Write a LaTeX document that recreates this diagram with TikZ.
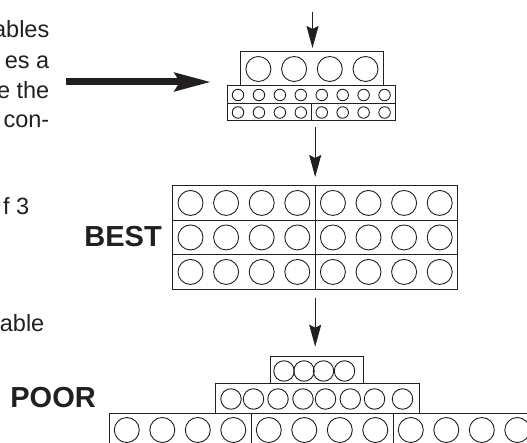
\documentclass[tikz,border=0pt]{standalone}
\usepackage{fontspec}
\setmainfont{Liberation Sans}
\usetikzlibrary{arrows.meta,calc}
\definecolor{inkc}{HTML}{231F20}
\begin{document}
\begin{tikzpicture}[x=1pt,y=-1pt,
  brick/.style={draw=inkc, line width=1pt, rectangle, inner sep=0pt, outer sep=0pt, anchor=north west},
  stud/.style={draw=inkc, line width=0.9pt, circle, inner sep=0pt, outer sep=0pt, minimum size=#1},
  flow/.style={draw=inkc, line width=1pt, -{Stealth[length=22pt,width=12pt,inset=3pt]}},
  bigflow/.style={draw=inkc, line width=7pt, -{Stealth[length=36pt,width=18pt,inset=5pt]}},
  txt/.style={font=\fontsize{23.5}{29.4}\selectfont, text=inkc, inner sep=0pt, anchor=base east},
  lbl/.style={font=\bfseries\fontsize{29}{33}\selectfont, text=inkc, inner sep=0pt, anchor=base east}]
\useasboundingbox (0,0) rectangle (527,443);
% left text (cut off at the left edge, as in the reference)
\node[txt] (l1) at (49.5,38) {ables};
\node[txt] (l2) at (49.5,68.5) {es a};
\node[txt] (l3) at (49.5,98.5) {e the};
\node[txt] (l4) at (49.5,128) {con-};
\node[txt] (l5) at (29.5,215) {f 3};
\node[txt] (l6) at (44.5,331) {able};
\node[lbl] (best) at (162,246.5) {BEST};
\node[lbl] (poor) at (96,407.5) {POOR};
% top cluster
\node[brick, minimum width=142.8pt, minimum height=34.3pt] (t1) at (240.5,51.7) {};
\foreach \i in {0,...,3} \node[stud=25pt] (t1c\i) at ({258.4+35.7*\i},69) {};
\node[brick, minimum width=167.5pt, minimum height=18pt] (t2) at (227.5,86) {};
\node[brick, minimum width=83.75pt, minimum height=17pt] (t3a) at (227.5,104) {};
\node[brick, minimum width=83.75pt, minimum height=17pt] (t3b) at (311.25,104) {};
\foreach \i in {0,...,7} {
  \node[stud=11.5pt] (t2c\i) at ({238+20.94*\i},95) {};
  \node[stud=11.5pt] (t3c\i) at ({238+20.94*\i},112.5) {};
}
% BEST wall
\foreach \r in {1,2,3} {
  \node[brick, minimum width=142.5pt, minimum height=34.5pt] (b\r L) at (172.7,{185.7+34.5*(\r-1)}) {};
  \node[brick, minimum width=142.5pt, minimum height=34.5pt] (b\r R) at (315.2,{185.7+34.5*(\r-1)}) {};
  \foreach \i in {0,...,7} \node[stud=25pt] (bc\r\i) at ({190.5+35.6*\i},{202.95+34.5*(\r-1)}) {};
}
% POOR stack
\node[brick, minimum width=93pt, minimum height=27.5pt] (p1) at (270.5,356) {};
\foreach \x [count=\i] in {284,304,323.5,344.5} \node[stud=20.5pt] (p1c\i) at (\x,371) {};
\node[brick, minimum width=203.5pt, minimum height=29.5pt] (p2) at (215.5,383.5) {};
\foreach \x [count=\i] in {231,253.5,278,303,325.5,350.3,374.5,402.5} \node[stud=20.5pt] (p2c\i) at (\x,399) {};
\node[brick, minimum width=142pt, minimum height=40pt] (p3a) at (109,413) {};
\node[brick, minimum width=142pt, minimum height=40pt] (p3b) at (251,413) {};
\node[brick, minimum width=142pt, minimum height=40pt] (p3c) at (393,413) {};
\foreach \i in {0,...,11} \node[stud=25pt] (p3d\i) at ({126.8+35.5*\i},430) {};
% arrows
\coordinate (a1) at (312.5,12);
\draw[flow, shorten >=3.7pt] (a1) -- (a1 |- t1.north);
\draw[flow] ($(b1L.north east |- t3b.south)+(0,6)$) -- ($(b1L.north east)+(0,-8.7)$);
\draw[flow] ($(b3L.south east)+(0,8.7)$) -- ($(b3L.south east |- p1.north)+(0,-9.3)$);
\coordinate (a0) at (66,82);
\draw[bigflow] (a0) -- (211,82);
\end{tikzpicture}
\end{document}
